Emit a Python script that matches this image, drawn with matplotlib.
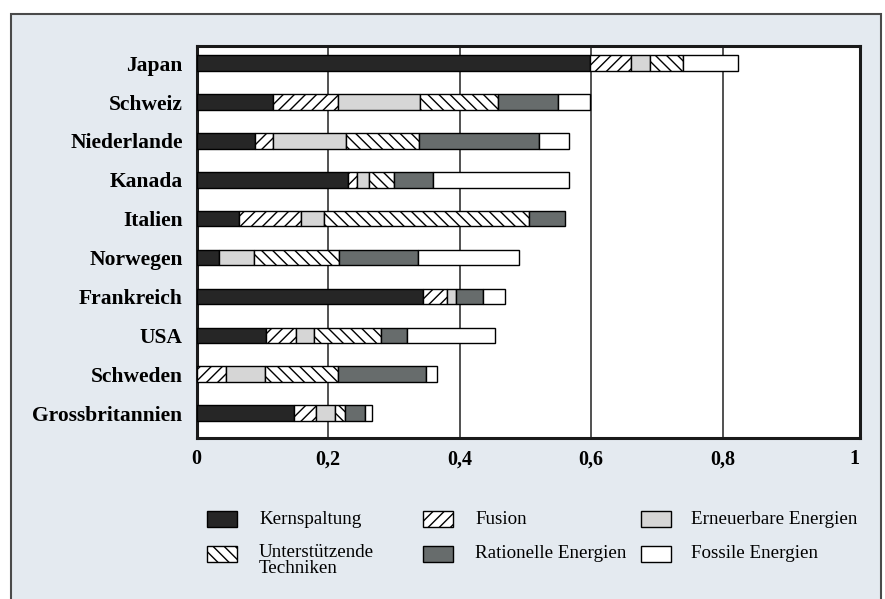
import numpy as np
import matplotlib
matplotlib.use('Agg')
import matplotlib.pyplot as plt
from matplotlib.patches import Rectangle

W, H = 885, 599

countries = ['Japan', 'Schweiz', 'Niederlande', 'Kanada', 'Italien',
             'Norwegen', 'Frankreich', 'USA', 'Schweden', 'Grossbritannien']

kernspaltung = [0.598, 0.117, 0.089, 0.231, 0.065, 0.034, 0.345, 0.105, 0.000, 0.149]
fusion       = [0.063, 0.098, 0.028, 0.013, 0.094, 0.000, 0.036, 0.047, 0.045, 0.033]
erneuerbare  = [0.028, 0.125, 0.110, 0.018, 0.035, 0.053, 0.014, 0.027, 0.059, 0.029]
unterstuetz  = [0.051, 0.118, 0.112, 0.038, 0.311, 0.130, 0.000, 0.101, 0.111, 0.015]
rationelle   = [0.000, 0.091, 0.182, 0.060, 0.056, 0.120, 0.041, 0.040, 0.134, 0.030]
fossile      = [0.084, 0.049, 0.045, 0.206, 0.000, 0.153, 0.033, 0.134, 0.016, 0.011]

tick_vals = [0, 0.2, 0.4, 0.6, 0.8, 1.0]
tick_labels = ['0', '0,2', '0,4', '0,6', '0,8', '1']

# label, values, facecolor, hatch
SERIES = [
    ('Kernspaltung', kernspaltung, '#262626', None),
    ('Fusion', fusion, 'white', '///'),
    ('Erneuerbare Energien', erneuerbare, '#d6d6d6', None),
    ('Unterstützende\nTechniken', unterstuetz, 'white', '\\\\\\'),
    ('Rationelle Energien', rationelle, '#676c6c', None),
    ('Fossile Energien', fossile, 'white', None),
]

plt.rcParams['font.family'] = ['Liberation Serif', 'DejaVu Serif']
plt.rcParams['hatch.linewidth'] = 1.0

fig = plt.figure(figsize=(W / 100, H / 100), dpi=100, facecolor='white')

def fx(x):
    return x / W

def fy(y):
    return 1 - y / H

# scanned page frame
fig.add_artist(Rectangle((fx(11), fy(620)), fx(881) - fx(11), fy(14) - fy(620),
                         transform=fig.transFigure, facecolor='#e4eaf0',
                         edgecolor='#4a4a4a', linewidth=1.5, zorder=0))

ax = fig.add_axes([fx(196.5), fy(438), fx(860) - fx(196.5), fy(46) - fy(438)])
ax.set_facecolor('white')

ypos = np.arange(len(countries))[::-1]
left = np.zeros(len(countries))
for label, vals, fc, hatch in SERIES:
    vals = np.array(vals)
    m = vals > 0
    ax.barh(ypos[m], vals[m], left=left[m], height=0.40, color=fc,
            edgecolor='black', linewidth=1.0, hatch=hatch, zorder=3)
    left += vals

ax.set_xlim(0, 1.009)
ax.set_ylim(-0.64, 9.44)
ax.set_xticks(tick_vals)
ax.set_xticklabels(tick_labels, fontsize=14.5, fontweight='bold')
ax.set_yticks(ypos)
ax.set_yticklabels(countries, fontsize=15.5, fontweight='bold')
ax.tick_params(axis='both', length=0)
ax.tick_params(axis='x', pad=8)
ax.tick_params(axis='y', pad=10)
for v in tick_vals[1:-1]:
    ax.axvline(v, color='#333333', linewidth=1.2, zorder=1)
for s in ax.spines.values():
    s.set_linewidth(2.2)
    s.set_color('#1a1a1a')

# legend drawn by hand, three columns
handle_x = [207, 423, 641]
text_x = [259, 475, 691]
row_y = [519, 554]
order = [[0, 3], [1, 4], [2, 5]]
for c in range(3):
    for r in range(2):
        label, vals, fc, hatch = SERIES[order[c][r]]
        fig.add_artist(Rectangle((fx(handle_x[c]), fy(row_y[r] + 8)),
                                 fx(30), 16 / H, transform=fig.transFigure,
                                 facecolor=fc, edgecolor='black', linewidth=1.0,
                                 hatch=hatch, zorder=5))
        if '\n' in label:
            fig.text(fx(text_x[c]), fy(row_y[r] - 10), label, fontsize=13.7,
                     va='top', ha='left', linespacing=0.9)
        else:
            fig.text(fx(text_x[c]), fy(row_y[r]), label, fontsize=13.7,
                     va='center', ha='left')

fig.savefig('out.png', dpi=100, facecolor='white')
